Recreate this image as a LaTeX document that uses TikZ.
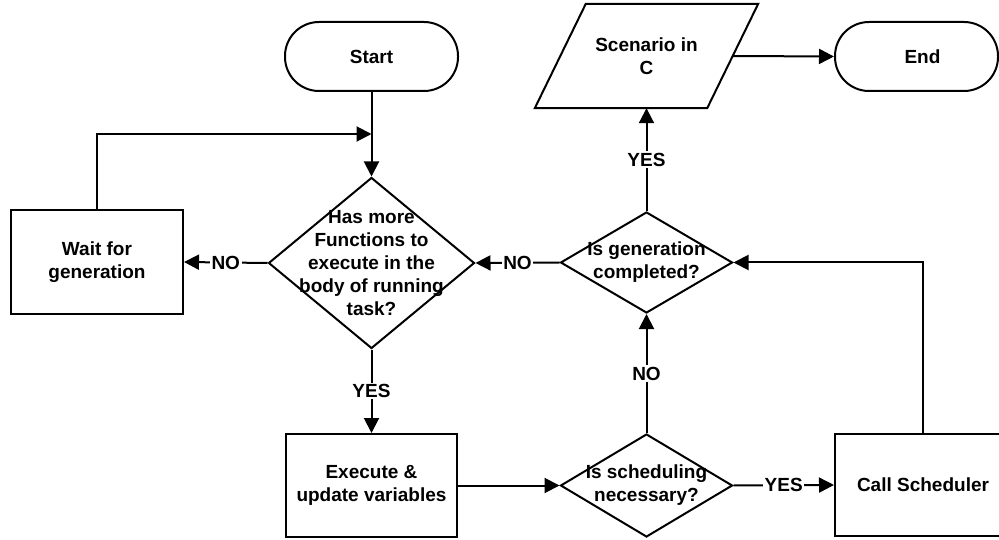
\documentclass[tikz,border=0pt]{standalone}
\usepackage{fontspec}
\setmainfont{Liberation Sans}
\usetikzlibrary{arrows.meta,shapes.geometric}
\begin{document}
\begin{tikzpicture}[x=1pt,y=-1pt,
  every node/.style={font=\bfseries\fontsize{19}{23}\selectfont, align=center},
  box/.style={draw, line width=2pt, rectangle, inner sep=0pt},
  term/.style={draw, line width=2pt, rectangle, rounded corners=34pt, inner sep=0pt, minimum height=69pt},
  dec/.style={draw, line width=2pt, diamond, inner sep=0pt},
  ghost/.style={rectangle, inner sep=0pt},
  conn/.style={line width=2pt, -{Triangle[length=15pt,width=15pt]}},
  lbl/.style={fill=white, inner sep=1.5pt}
]
\useasboundingbox (0,0) rectangle (999,540);
\fill[white] (0,0) rectangle (999,540);

% nodes
\node[term, minimum width=173pt] (start) at (371.5,56.5) {Start};
\node[term, minimum width=163pt] (end) at (916.5,56.5) {\hspace*{12pt}End};
\node[ghost, minimum width=172pt, minimum height=104pt] (scen) at (646.5,56) {Scenario in\\C};
\draw[line width=2pt, line join=miter]
  ([xshift=25.5pt]scen.north west) -- ([xshift=25.5pt]scen.north east)
  -- ([xshift=-25.5pt]scen.south east) -- ([xshift=-25.5pt]scen.south west) -- cycle;

\node[dec, minimum width=206pt, minimum height=171pt] (d1) at (371.5,263) {};
\node at (d1) {Has more\\Functions to\\execute in the\\body of running\\task?};
\node[box, minimum width=172pt, minimum height=104pt] (wait) at (97,262) {Wait for\\generation};
\node[dec, minimum width=172pt, minimum height=101pt] (d2) at (646.5,262.5) {};
\node at (d2) {Is generation\\completed?};
\node[box, minimum width=171pt, minimum height=103pt] (exec) at (371.5,485.5) {Execute \&\\update variables};
\node[dec, minimum width=172pt, minimum height=103pt] (d3) at (646.5,485.5) {};
\node at (d3) {Is scheduling\\necessary?};
\node[box, minimum width=176pt, minimum height=102pt] (cs) at (923,485) {Call Scheduler};

\coordinate (join) at (371.5,134);

% connectors
\draw[conn] (start.south) -- (d1.north);
\draw[conn] (wait.north) |- (join);
\draw[conn] (d1.west) -- node[lbl]{NO} (wait.east);
\draw[conn] (d1.south) -- node[lbl]{YES} (exec.north);
\draw[conn] (exec.east) -- (d3.west);
\draw[conn] (d3.east) -- node[lbl]{YES} (cs.west);
\draw[conn] (d3.north) -- node[lbl]{NO} (d2.south);
\draw[conn] (cs.north) |- (d2.east);
\draw[conn] (d2.west) -- node[lbl]{NO} (d1.east);
\draw[conn] (d2.north) -- node[lbl]{YES} (scen.south);
\draw[conn] (scen.east) -- (end.west);
\end{tikzpicture}
\end{document}
